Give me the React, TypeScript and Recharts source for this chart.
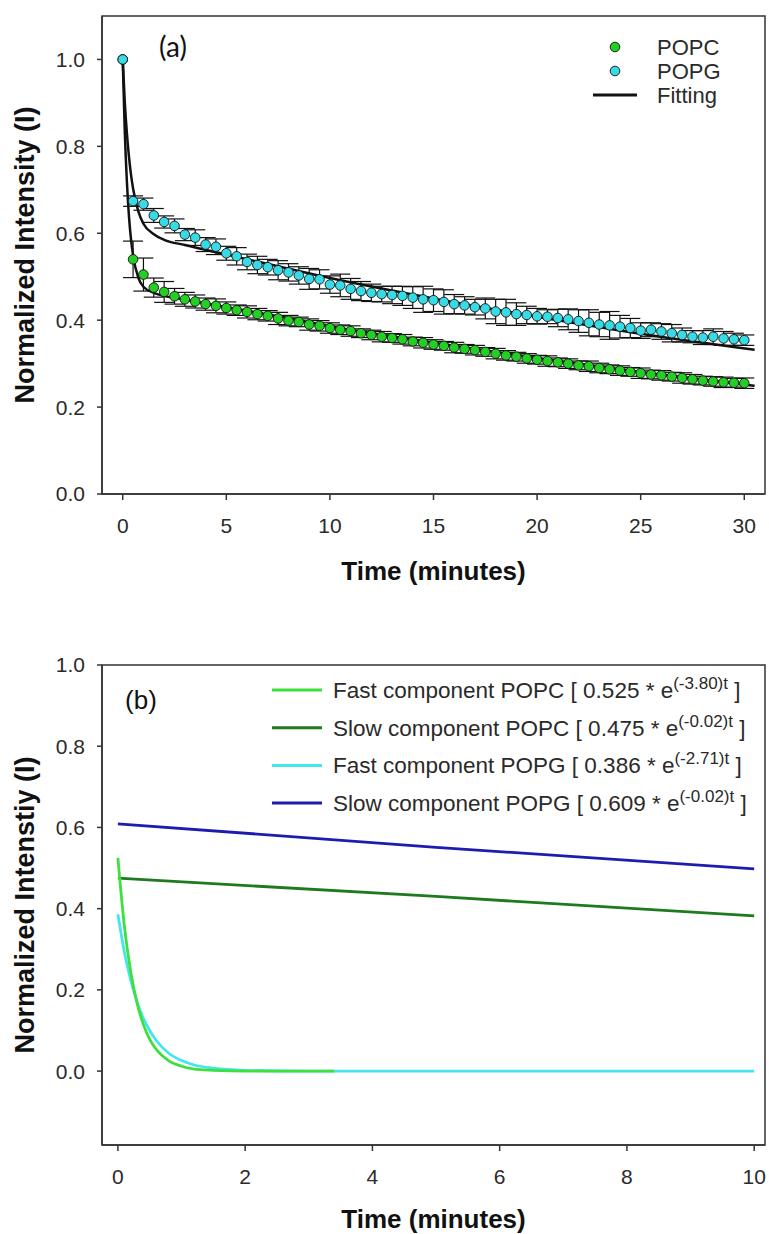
import React from 'react';
import { ComposedChart, Scatter, Line, XAxis, YAxis, ErrorBar, ReferenceArea } from 'recharts';

const FONT = '"Liberation Sans", Arial, sans-serif';
const INK = '#2a2a2a';

// ---- panel (a): measured intensities, every 0.5 min ----
const timeA = [
  0, 0.5, 1, 1.5, 2, 2.5, 3, 3.5, 4, 4.5,
  5, 5.5, 6, 6.5, 7, 7.5, 8, 8.5, 9, 9.5,
  10, 10.5, 11, 11.5, 12, 12.5, 13, 13.5, 14, 14.5,
  15, 15.5, 16, 16.5, 17, 17.5, 18, 18.5, 19, 19.5,
  20, 20.5, 21, 21.5, 22, 22.5, 23, 23.5, 24, 24.5,
  25, 25.5, 26, 26.5, 27, 27.5, 28, 28.5, 29, 29.5,
  30,
];
const popcA = [
  1.0, 0.54, 0.505, 0.475, 0.465, 0.455, 0.448, 0.443, 0.437, 0.433,
  0.428, 0.423, 0.419, 0.414, 0.41, 0.404, 0.399, 0.396, 0.39, 0.387,
  0.382, 0.378, 0.375, 0.37, 0.366, 0.362, 0.359, 0.356, 0.351, 0.348,
  0.344, 0.341, 0.337, 0.334, 0.331, 0.327, 0.323, 0.319, 0.316, 0.312,
  0.309, 0.306, 0.303, 0.3, 0.296, 0.294, 0.29, 0.287, 0.284, 0.281,
  0.278, 0.275, 0.273, 0.27, 0.267, 0.264, 0.261, 0.259, 0.257, 0.256,
  0.255,
];
const popcErr = [
  0, 0.042, 0.038, 0.022, 0.024, 0.018, 0.016, 0.015, 0.014, 0.016,
  0.014, 0.012, 0.014, 0.013, 0.012, 0.014, 0.012, 0.011, 0.013, 0.012,
  0.012, 0.011, 0.012, 0.01, 0.011, 0.012, 0.01, 0.011, 0.01, 0.012,
  0.011, 0.01, 0.012, 0.01, 0.011, 0.01, 0.012, 0.011, 0.01, 0.011,
  0.01, 0.012, 0.01, 0.011, 0.01, 0.012, 0.011, 0.01, 0.011, 0.01,
  0.012, 0.01, 0.011, 0.01, 0.012, 0.011, 0.01, 0.011, 0.012, 0.01,
  0.012,
];
const popgA = [
  1.0, 0.674, 0.667, 0.641, 0.626, 0.617, 0.597, 0.59, 0.574, 0.569,
  0.554, 0.547, 0.534, 0.527, 0.522, 0.515, 0.51, 0.503, 0.495, 0.494,
  0.482, 0.48, 0.472, 0.467, 0.463, 0.46, 0.458, 0.456, 0.452, 0.448,
  0.446, 0.442, 0.437, 0.434, 0.43, 0.427, 0.42, 0.418, 0.414, 0.412,
  0.409, 0.408, 0.405, 0.402, 0.398, 0.394, 0.39, 0.388, 0.385, 0.382,
  0.376, 0.378, 0.374, 0.37, 0.366, 0.362, 0.36, 0.362, 0.358, 0.356,
  0.354,
];
const popgErr = [
  0, 0.012, 0.014, 0.016, 0.014, 0.016, 0.014, 0.018, 0.016, 0.018,
  0.016, 0.02, 0.018, 0.02, 0.018, 0.022, 0.02, 0.02, 0.024, 0.022,
  0.02, 0.026, 0.024, 0.022, 0.02, 0.018, 0.02, 0.022, 0.025, 0.03,
  0.026, 0.028, 0.022, 0.02, 0.018, 0.024, 0.028, 0.03, 0.026, 0.02,
  0.018, 0.016, 0.02, 0.024, 0.026, 0.03, 0.028, 0.032, 0.026, 0.022,
  0.018, 0.016, 0.018, 0.02, 0.016, 0.014, 0.016, 0.018, 0.016, 0.014,
  0.012,
];

// fitting curves
const fitTime = [0, 0.1, 0.2, 0.3, 0.4, 0.5, 0.75, 1, 1.5, 2, 3, 5, 7.5, 10, 15, 20, 25, 30.5];
const fitPOPC = [1.0, 0.833, 0.72, 0.64, 0.586, 0.549, 0.498, 0.477, 0.463, 0.456, 0.447, 0.43, 0.409, 0.386, 0.348, 0.313, 0.281, 0.249];
const fitPOPG = [1.0, 0.902, 0.831, 0.777, 0.735, 0.703, 0.651, 0.622, 0.598, 0.585, 0.573, 0.551, 0.524, 0.497, 0.45, 0.408, 0.369, 0.332];

// ---- panel (b): components ----
const fastTimeC = [0, 0.1, 0.2, 0.3, 0.4, 0.5, 0.6, 0.8, 1.0, 1.2, 1.5, 2.0, 2.5, 3.4];
const fastPOPC = [0.525, 0.359, 0.246, 0.168, 0.115, 0.078, 0.054, 0.025, 0.012, 0.005, 0.002, 0.0, 0.0, 0.0];
const fastTimeG = [0, 0.1, 0.2, 0.3, 0.4, 0.5, 0.6, 0.8, 1.0, 1.2, 1.5, 2.0, 3.0, 10];
const fastPOPG = [0.386, 0.294, 0.225, 0.171, 0.13, 0.1, 0.076, 0.044, 0.026, 0.015, 0.007, 0.002, 0.0, 0.0];
const slowTime = [0, 5, 10];
const slowPOPC = [0.475, 0.43, 0.382];
const slowPOPG = [0.609, 0.551, 0.498];

const ticksA = [0, 5, 10, 15, 20, 25, 30];
const ticksB = [0, 2, 4, 6, 8, 10];
const yTicksA = [0, 0.2, 0.4, 0.6, 0.8, 1.0];
const yTicksB = [0, 0.2, 0.4, 0.6, 0.8, 1.0];

const C_POPC = '#22cf22';
const C_POPG = '#36dbe6';
const C_FAST_C = '#3ee03e';
const C_SLOW_C = '#1f7a1f';
const C_FAST_G = '#44e6ee';
const C_SLOW_G = '#1c1cb0';

const zip = (t: number[], v: number[], e?: number[]) =>
  t.map((x, i) => (e ? { t: x, v: v[i], e: e[i] } : { t: x, v: v[i] }));

const tickStyle = { fontSize: 21, fill: INK, fontFamily: FONT };
const axisLine = { stroke: '#333', strokeWidth: 1.5 };

const dotShape = (fill: string) => (p: any) =>
  <circle cx={p.cx} cy={p.cy} r={4.8} fill={fill} stroke="#111" strokeWidth={0.9} />;

const yTitle = (text: string) => (p: any) => {
  const vb = p.viewBox || {};
  const cy = vb.y + vb.height / 2;
  return (
    <text x={25} y={cy} transform={`rotate(-90, 25, ${cy})`} textAnchor="middle" dominantBaseline="central"
      fontSize={27} fontWeight="bold" fontFamily={FONT} fill="#111">{text}</text>
  );
};

const xTitle = (text: string, off: number) => (p: any) => {
  const vb = p.viewBox || {};
  return (
    <text x={vb.x + vb.width / 2} y={vb.y + vb.height - off} textAnchor="middle"
      fontSize={26} fontWeight="bold" fontFamily={FONT} fill="#111">{text}</text>
  );
};

const PanelA = () => (
  <ComposedChart width={769} height={600} margin={{ top: 16, right: 4, bottom: 0, left: 0 }}>
    <XAxis dataKey="t" type="number" domain={[-1, 31]} ticks={ticksA} allowDataOverflow
      height={106} tick={tickStyle} tickSize={6} tickMargin={18} axisLine={axisLine} tickLine={axisLine}
      label={xTitle('Time (minutes)', 20)} />
    <YAxis type="number" domain={[0, 1.1]} ticks={yTicksA} allowDataOverflow width={102}
      tick={tickStyle} tickSize={5} tickMargin={12} axisLine={axisLine} tickLine={axisLine}
      tickFormatter={(v) => v.toFixed(1)} label={yTitle('Normalized Intensity (I)')} />
    <ReferenceArea x1={-1} x2={31} y1={0} y2={1.1} fill="none" stroke="#333" strokeWidth={1.5} />
    <Scatter data={zip(timeA, popcA, popcErr)} dataKey="v" shape={dotShape(C_POPC)} isAnimationActive={false}>
      <ErrorBar dataKey="e" direction="y" width={10} stroke="#111" strokeWidth={1.2} />
    </Scatter>
    <Scatter data={zip(timeA, popgA, popgErr)} dataKey="v" shape={dotShape(C_POPG)} isAnimationActive={false}>
      <ErrorBar dataKey="e" direction="y" width={10} stroke="#111" strokeWidth={1.2} />
    </Scatter>
    <Line data={zip(fitTime, fitPOPC)} dataKey="v" type="monotone" stroke="#111" strokeWidth={2.5} dot={false} isAnimationActive={false} />
    <Line data={zip(fitTime, fitPOPG)} dataKey="v" type="monotone" stroke="#111" strokeWidth={2.5} dot={false} isAnimationActive={false} />
  </ComposedChart>
);

const PanelB = () => (
  <ComposedChart width={769} height={614} margin={{ top: 45, right: 4, bottom: 0, left: 0 }}>
    <XAxis dataKey="t" type="number" domain={[-0.25, 10.17]} ticks={ticksB} allowDataOverflow
      height={89} tick={tickStyle} tickSize={6} tickMargin={18} axisLine={axisLine} tickLine={axisLine}
      label={xTitle('Time (minutes)', 6)} />
    <YAxis type="number" domain={[-0.182, 1.0]} ticks={yTicksB} allowDataOverflow width={102}
      tick={tickStyle} tickSize={5} tickMargin={12} axisLine={axisLine} tickLine={axisLine}
      tickFormatter={(v) => v.toFixed(1)} label={yTitle('Normalized Intenstiy (I)')} />
    <ReferenceArea x1={-0.25} x2={10.17} y1={-0.182} y2={1.0} fill="none" stroke="#333" strokeWidth={1.5} />
    <Line data={zip(slowTime, slowPOPG)} dataKey="v" type="linear" stroke={C_SLOW_G} strokeWidth={2.8} dot={false} isAnimationActive={false} />
    <Line data={zip(slowTime, slowPOPC)} dataKey="v" type="linear" stroke={C_SLOW_C} strokeWidth={2.8} dot={false} isAnimationActive={false} />
    <Line data={zip(fastTimeG, fastPOPG)} dataKey="v" type="monotone" stroke={C_FAST_G} strokeWidth={2.8} dot={false} isAnimationActive={false} />
    <Line data={zip(fastTimeC, fastPOPC)} dataKey="v" type="monotone" stroke={C_FAST_C} strokeWidth={2.8} dot={false} isAnimationActive={false} />
  </ComposedChart>
);

const legendB = [
  { color: C_FAST_C, name: 'Fast component POPC', amp: '0.525', rate: '(-3.80)t' },
  { color: C_SLOW_C, name: 'Slow component POPC', amp: '0.475', rate: '(-0.02)t' },
  { color: C_FAST_G, name: 'Fast component POPG', amp: '0.386', rate: '(-2.71)t' },
  { color: C_SLOW_G, name: 'Slow component POPG', amp: '0.609', rate: '(-0.02)t' },
];

const Overlay = () => (
  <svg width={769} height={1234} style={{ position: 'absolute', left: 0, top: 0, pointerEvents: 'none' }}>
    <text x={173} y={57} textAnchor="middle" fontSize={28} fontFamily="Lato, 'Open Sans', sans-serif" fill="#111">(a)</text>
    <circle cx={615} cy={47} r={4.8} fill={C_POPC} stroke="#111" strokeWidth={0.9} />
    <circle cx={615} cy={71} r={4.8} fill={C_POPG} stroke="#111" strokeWidth={0.9} />
    <line x1={593} x2={637} y1={95} y2={95} stroke="#111" strokeWidth={3} />
    {['POPC', 'POPG', 'Fitting'].map((s, i) => (
      <text key={s} x={657} y={55 + i * 24} fontSize={22} fontFamily={FONT} fill={INK}>{s}</text>
    ))}
    <text x={141} y={709} textAnchor="middle" fontSize={26} fontFamily={FONT} fill="#111">(b)</text>
    {legendB.map((d, i) => {
      const y = 690 + i * 37.7;
      return (
        <g key={d.name}>
          <line x1={272} x2={322} y1={y} y2={y} stroke={d.color} strokeWidth={3} />
          <text x={333} y={y + 8} fontSize={22.5} fontFamily={FONT} fill={INK}>
            {`${d.name} [ ${d.amp} * e`}
            <tspan dy={-9} fontSize={17}>{d.rate}</tspan>
            <tspan dy={9}>{' ]'}</tspan>
          </text>
        </g>
      );
    })}
  </svg>
);

export default function App() {
  return (
    <div style={{ position: 'absolute', left: 0, top: 0, width: 769, height: 1234, background: '#fff' }}>
      <div style={{ position: 'absolute', left: 0, top: 0 }}>
        <PanelA />
      </div>
      <div style={{ position: 'absolute', left: 0, top: 620 }}>
        <PanelB />
      </div>
      <Overlay />
    </div>
  );
}
